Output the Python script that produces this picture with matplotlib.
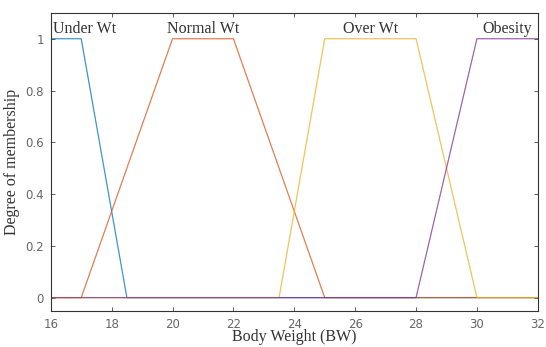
import matplotlib
matplotlib.use("Agg")
import matplotlib.pyplot as plt
import numpy as np

x_range = [16, 32]
mf_names = ["Under Wt", "Normal Wt", "Over Wt", "Obesity"]
mf_params = [
    [16, 16, 17, 18.5],
    [17, 20, 22, 25],
    [23.5, 25, 28, 30],
    [28, 30, 32, 32],
]
label_x = [17.1, 21.0, 26.5, 31.0]
colors = ["#0072BD", "#D95319", "#EDB120", "#7E2F8E"]

def trapmf(x, p):
    a, b, c, d = p
    y = np.zeros_like(x)
    for i, v in enumerate(x):
        if v < a or v > d:
            y[i] = 0.0
        elif b <= v <= c:
            y[i] = 1.0
        elif a <= v < b:
            y[i] = (v - a) / (b - a) if b > a else 1.0
        else:
            y[i] = (d - v) / (d - c) if d > c else 1.0
    return y

xs = np.linspace(x_range[0], x_range[1], 1601)

fig = plt.figure(figsize=(5.46, 3.47), dpi=100)
ax = fig.add_axes([0.093, 0.105, 0.892, 0.858])
for p, name, lx, col in zip(mf_params, mf_names, label_x, colors):
    ax.plot(xs, trapmf(xs, p), color=col, lw=0.9, alpha=0.75)
    ax.text(lx, 1.008, name, ha="center", va="bottom",
            family="Liberation Serif", fontsize=11.5, color="#333333")

ax.set_xlim(16, 32)
ax.set_ylim(-0.05, 1.1)
ax.set_xticks(np.arange(16, 33, 2))
ax.set_yticks([0, 0.2, 0.4, 0.6, 0.8, 1])
ax.set_yticklabels(["0", "0.2", "0.4", "0.6", "0.8", "1"])
ax.tick_params(direction="in", top=True, right=True, length=3, width=0.6,
               labelsize=8.5, colors="#444444", labelcolor="#666666", pad=5)
for s in ax.spines.values():
    s.set_linewidth(0.8)
    s.set_color("#333333")
ax.set_xlabel("Body Weight (BW)", family="Liberation Serif", fontsize=11.5,
              color="#333333", labelpad=-1)
ax.set_ylabel("Degree of membership", family="Liberation Serif", fontsize=11.5,
              color="#333333", labelpad=4)
fig.savefig("out.png", dpi=100)
